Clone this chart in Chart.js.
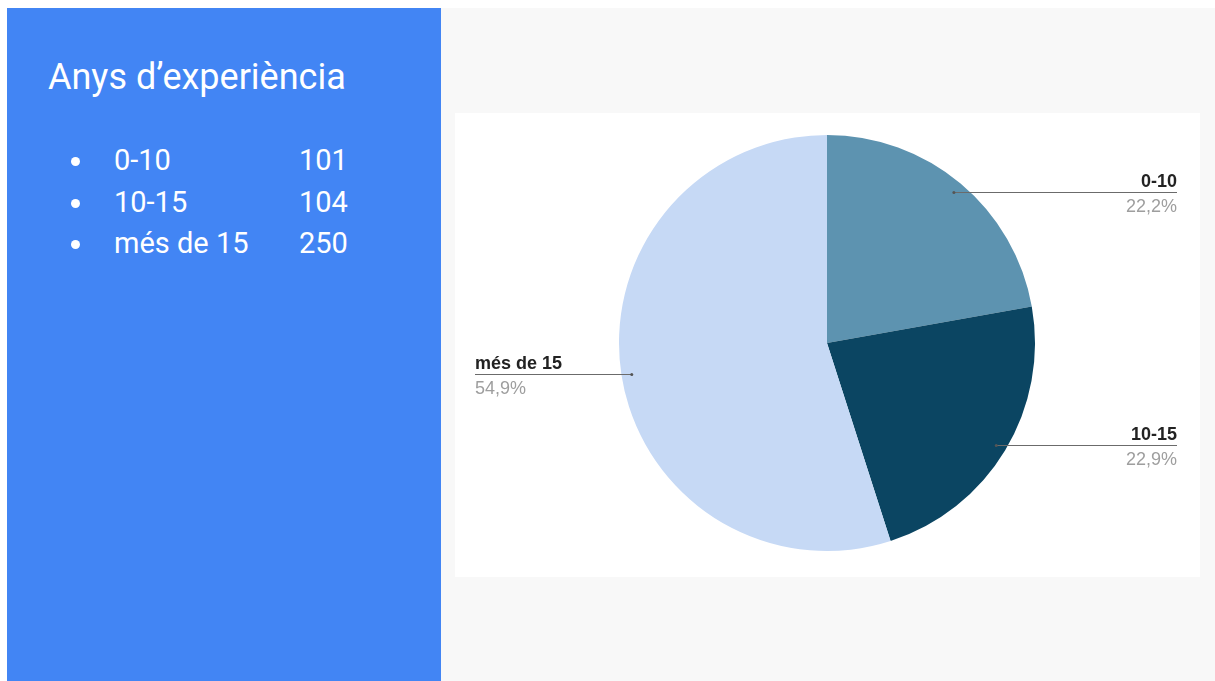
<!DOCTYPE html>
<html>
<head>
<meta charset="utf-8">
<script src="https://cdn.jsdelivr.net/npm/chart.js@4"></script>
<style>
  html, body { margin: 0; padding: 0; background: #ffffff; }
  body { width: 1215px; height: 681px; position: relative; overflow: hidden; font-family: Roboto, "Noto Sans", sans-serif; }
  #side {
    position: absolute; left: 7px; top: 8px; width: 434px; height: 673px;
    background: #4285f4; color: #ffffff;
  }
  #side h1 {
    position: absolute; left: 41px; top: 48px; margin: 0;
    font-weight: 400; font-size: 36px; white-space: nowrap;
  }
  #list { position: absolute; left: 0; top: 132px; margin: 0; padding: 0; list-style: none; }
  #list li { position: relative; height: 41.5px; font-size: 29px; line-height: 41.5px; white-space: nowrap; }
  #list li .dot { position: absolute; left: 64px; top: 17px; width: 9px; height: 9px; border-radius: 50%; background: #ffffff; }
  #list li .cat { position: absolute; left: 107px; }
  #list li .val { position: absolute; left: 292px; }
  #main { position: absolute; left: 441px; top: 8px; width: 774px; height: 673px; background: #f8f8f8; }
  #card { position: absolute; left: 455px; top: 113px; width: 745px; height: 464px; background: #ffffff; }
</style>
</head>
<body>
<div id="side">
  <h1>Anys d’experiència</h1>
  <ul id="list"></ul>
</div>
<div id="main"></div>
<div id="card"><canvas id="pie" width="745" height="464"></canvas></div>

<script>
var categories = ['0-10', '10-15', 'més de 15'];
var counts = [101, 104, 250];
var sliceColors = ['#5d93b0', '#0b4562', '#c6d9f5'];

// list on the blue panel
var list = document.getElementById('list');
categories.forEach(function(cat, i) {
  var li = document.createElement('li');
  li.innerHTML = '<span class="dot"></span><span class="cat"></span><span class="val"></span>';
  li.querySelector('.cat').textContent = cat;
  li.querySelector('.val').textContent = counts[i];
  list.appendChild(li);
});

function percentText(v) {
  var total = counts.reduce(function(a, b) { return a + b; }, 0);
  return (v / total * 100).toFixed(1).replace('.', ',') + '%';
}

// leader lines with name + percentage, google sheets style
var leaderLabels = {
  id: 'leaderLabels',
  afterDatasetsDraw: function(chart) {
    var ctx = chart.ctx;
    var area = chart.chartArea;
    var arcs = chart.getDatasetMeta(0).data;
    ctx.save();
    arcs.forEach(function(arc, i) {
      var p = arc.getProps(['x', 'y', 'startAngle', 'endAngle', 'outerRadius'], true);
      var mid = (p.startAngle + p.endAngle) / 2;
      var r = p.outerRadius * 0.95;
      var sx = p.x + Math.cos(mid) * r;
      var sy = Math.round(p.y + Math.sin(mid) * r) + 0.5;
      var right = Math.cos(mid) >= 0;
      var ex = right ? area.right + 142 : 20;

      ctx.strokeStyle = '#6b6b6b';
      ctx.lineWidth = 1;
      ctx.beginPath();
      ctx.moveTo(sx, sy);
      ctx.lineTo(ex, sy);
      ctx.stroke();
      ctx.fillStyle = '#555555';
      ctx.beginPath();
      ctx.arc(sx, sy, 1.5, 0, Math.PI * 2);
      ctx.fill();

      ctx.textAlign = right ? 'right' : 'left';
      ctx.textBaseline = 'alphabetic';
      ctx.fillStyle = '#222222';
      ctx.font = 'bold 18px "Liberation Sans", Arial, sans-serif';
      ctx.fillText(categories[i], ex, sy - 6);
      ctx.fillStyle = '#9e9e9e';
      ctx.font = '18px "Liberation Sans", Arial, sans-serif';
      ctx.fillText(percentText(counts[i]), ex, sy + 19);
    });
    ctx.restore();
  }
};

new Chart(document.getElementById('pie'), {
  type: 'pie',
  data: {
    labels: categories,
    datasets: [{
      data: counts,
      backgroundColor: sliceColors,
      borderWidth: 0
    }]
  },
  options: {
    responsive: false,
    animation: false,
    layout: { padding: { left: 164, right: 165, top: 22, bottom: 26 } },
    plugins: {
      legend: { display: false },
      tooltip: { enabled: false }
    }
  },
  plugins: [leaderLabels]
});
</script>
</body>
</html>
